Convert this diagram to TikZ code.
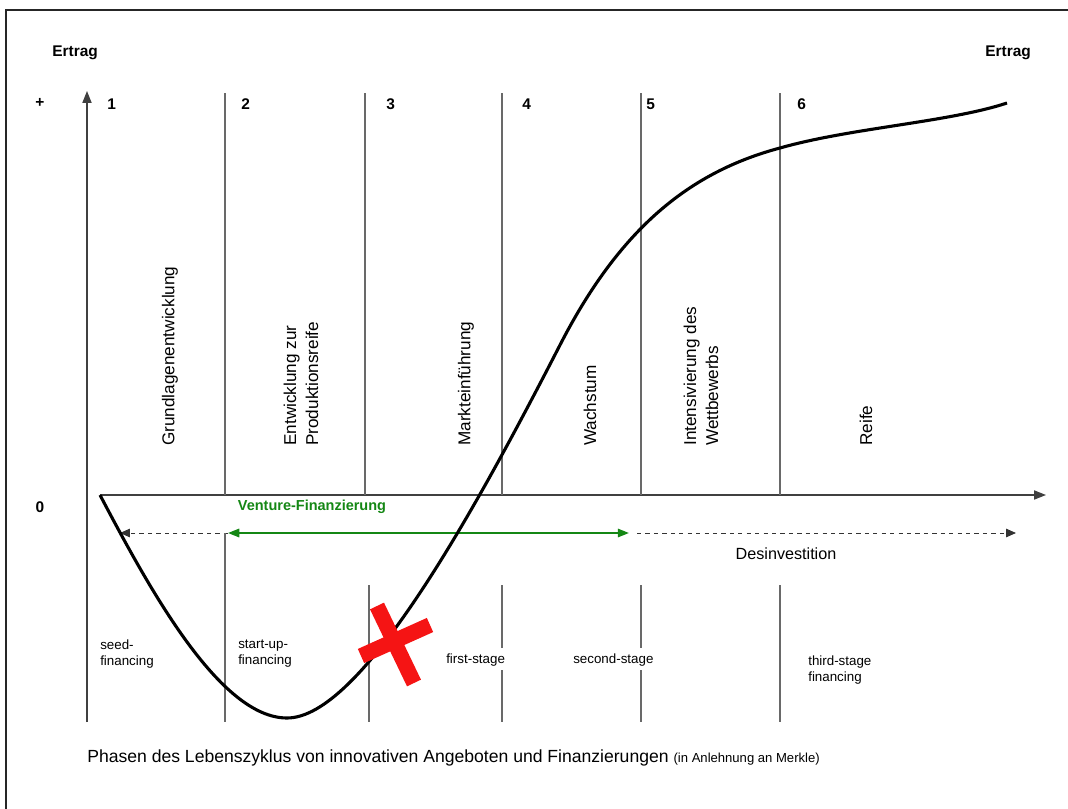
\documentclass[tikz,border=0pt]{standalone}
\usepackage{fontspec}
\setmainfont{Liberation Sans}
\usetikzlibrary{positioning}
\usetikzlibrary{shapes.geometric, arrows, arrows.meta}
\definecolor{phasegray}{RGB}{105,105,105}
\definecolor{ventgreen}{RGB}{20,135,20}
\definecolor{crossred}{RGB}{245,20,20}
\tikzstyle{boldlabel} = [font=\fontsize{11}{12}\selectfont\bfseries, inner sep=0pt]
\tikzstyle{phasenum} = [font=\fontsize{11}{12}\selectfont\bfseries, anchor=west, inner sep=0pt]
\tikzstyle{phasetext} = [font=\fontsize{12.2}{15.6}\selectfont, rotate=90, anchor=west, align=left, inner sep=0pt]
\tikzstyle{stagetext} = [font=\fontsize{9.5}{11.4}\selectfont, anchor=west, align=left, inner sep=0pt]
\tikzstyle{phaseline} = [draw=phasegray, line width=0.8pt]
\tikzstyle{axis} = [draw=black!75, line width=1pt, -{Triangle[length=8.5pt,width=6.5pt]}]
\tikzstyle{dasharrow} = [draw=black!80, line width=0.7pt, dashed, -{Triangle[length=7pt,width=6pt]}]
\tikzstyle{arrow} = [draw=ventgreen, line width=1.3pt, {Triangle[length=8pt,width=6pt]}-{Triangle[length=8pt,width=6pt]}]

\begin{document}
\begin{tikzpicture}[x=0.025cm, y=-0.025cm]
\useasboundingbox (0,0) rectangle (1068,809);

% Frame

	\draw [line width=1.2pt, black!85] (6,809) -- (6,10) -- (1068,10);


% Axes

	\coordinate (yBottom) at (87,722);
	\coordinate (yTop) at (87,91);
	\coordinate (xLeft) at (100,495);
	\coordinate (xRight) at (1046,495);

	\draw [axis] (yBottom) -- (yTop);
	\draw [axis] (xLeft) -- (xRight);

	\node (ertragL) [boldlabel, anchor=west] at (52,53) {Ertrag};
	\node (ertragR) [boldlabel, anchor=west] at (985,53) {Ertrag};
	\node (plus) [boldlabel] at (40,103) {+};
	\node (zero) [boldlabel] at (40,507) {0};


% Phase lines

	\draw [phaseline] (225,93) -- (225,495);
	\draw [phaseline] (365,93) -- (365,495);
	\draw [phaseline] (502,93) -- (502,495);
	\draw [phaseline] (641,93) -- (641,495);
	\draw [phaseline] (780,93) -- (780,495);

	\node (num1) [phasenum] at (107,104) {1};
	\node (num2) [phasenum] at (241,104) {2};
	\node (num3) [phasenum] at (386,104) {3};
	\node (num4) [phasenum] at (522,104) {4};
	\node (num5) [phasenum] at (646,104) {5};
	\node (num6) [phasenum] at (797,104) {6};


% Phase names

	\node (grundlagen) [phasetext] at (170,446) {Grundlagenentwicklung};
	\node (produktion) [phasetext] at (301,446) {Entwicklung zur\\Produktionsreife};
	\node (markt) [phasetext] at (466,446) {Markteinführung};
	\node (wachstum) [phasetext] at (590,446) {Wachstum};
	\node (wettbewerb) [phasetext] at (701,446) {Intensivierung des\\Wettbewerbs};
	\node (reife) [phasetext] at (866,446) {Reife};


% Financing arrows

	\coordinate (seedEnd) at (120,533);
	\coordinate (ventL) at (228,533);
	\coordinate (ventR) at (629,533);
	\coordinate (desStart) at (637,533);
	\coordinate (desEnd) at (1016,533);

	\draw [dasharrow] (ventL) -- (seedEnd);
	\draw [arrow] (ventL) -- (ventR);
	\draw [dasharrow] (desStart) -- (desEnd);

	\node (venture) [font=\fontsize{10.3}{12}\selectfont\bfseries, text=ventgreen, inner sep=0pt] at (312,507) {Venture-Finanzierung};
	\node (desinv) [font=\fontsize{11.5}{13}\selectfont, inner sep=0pt] at (786,554) {Desinvestition};


% Financing stages

	\draw [phaseline] (225,533) -- (225,722);
	\draw [phaseline] (369,585) -- (369,722);
	\draw [phaseline] (502,585) -- (502,648);
	\draw [phaseline] (502,670) -- (502,722);
	\draw [phaseline] (641,585) -- (641,648);
	\draw [phaseline] (641,670) -- (641,722);
	\draw [phaseline] (780,585) -- (780,722);

	\node (seed) [stagetext] at (100,654) {seed-\\financing};
	\node (startup) [stagetext] at (238,654) {start-up-\\financing};
	\node (first) [stagetext] at (446,660) {first-stage};
	\node (second) [stagetext] at (573,660) {second-stage};
	\node (third) [stagetext] at (808,670) {third-stage\\financing};


% Life cycle curve

	\draw [line width=2.2pt, black] (100,495)
		.. controls (150,590) and (220,718) .. (287,718)
		.. controls (360,718) and (470,520) .. (560,345)
		.. controls (620,228) and (690,172) .. (780,148)
		.. controls (850,128) and (950,122) .. (1007,103);


% Red cross

	\draw [crossred, line width=11pt] (377,606) -- (414,683);
	\draw [crossred, line width=11pt] (361,656) -- (430,625);


% Caption

	\node (caption) [anchor=base west, inner sep=0pt, font=\fontsize{12.5}{14}\selectfont] at (87,762) {Phasen des Lebenszyklus von innovativen Angeboten und Finanzierungen {\fontsize{9.3}{11}\selectfont (in Anlehnung an Merkle)}};

\end{tikzpicture}
\end{document}
